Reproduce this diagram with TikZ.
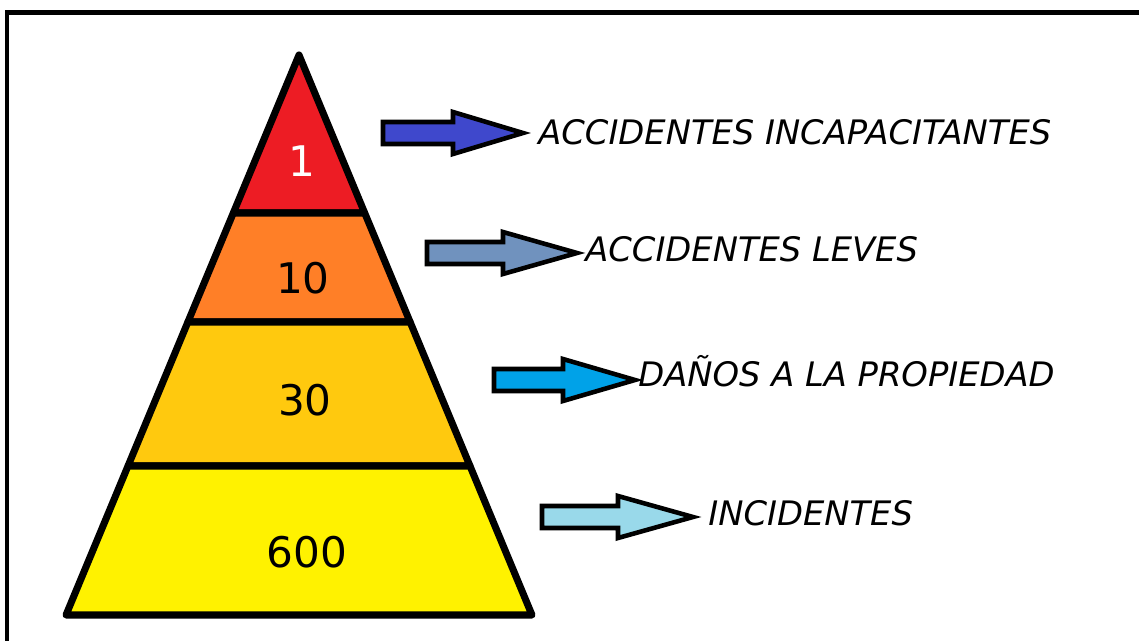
\documentclass[tikz,border=0pt]{standalone}
\usepackage{fontspec}
\setmainfont{DejaVu Sans}
\definecolor{rojo}{HTML}{ED1C24}
\definecolor{naranja}{HTML}{FF7F27}
\definecolor{oro}{HTML}{FFC90E}
\definecolor{amarillo}{HTML}{FFF200}
\definecolor{azul}{HTML}{3F48CC}
\definecolor{acero}{HTML}{7092BE}
\definecolor{celeste}{HTML}{00A2E8}
\definecolor{claro}{HTML}{99D9EA}
\def\capauno{(299,55) -- (364.7,213) -- (233.3,213) -- cycle}
\def\capados{(233.3,213) -- (364.7,213) -- (410.1,322) -- (187.9,322) -- cycle}
\def\capatres{(187.9,322) -- (410.1,322) -- (470,466) -- (128,466) -- cycle}
\def\capacuatro{(128,466) -- (470,466) -- (532,615) -- (66,615) -- cycle}
% flecha: inicio, base de la punta, punta, altura, color
\newcommand{\flecha}[5]{%
  \filldraw[borde, fill=#5] (#1,#4-11) -- (#2,#4-11) -- (#2,#4-21) -- (#3,#4)
    -- (#2,#4+21) -- (#2,#4+11) -- (#1,#4+11) -- cycle;}
\tikzset{
  borde/.style={line width=2.6pt, line join=miter},
  numero/.style={font=\fontsize{24}{27}\selectfont},
  texto/.style={anchor=base west, inner sep=0pt, font=\fontsize{19.2}{21}\selectfont\itshape}
}

\begin{document}
\begin{tikzpicture}[x=0.02cm, y=-0.02cm]
      \useasboundingbox (0,0) rectangle (1139,641);
      \draw[line width=2.4pt] (7,660) -- (7,12.5) -- (1160,12.5);
      \begin{scope}[line width=4pt, line join=round]
        \filldraw[fill=rojo] \capauno;
        \filldraw[fill=naranja] \capados;
        \filldraw[fill=oro] \capatres;
        \filldraw[fill=amarillo] \capacuatro;
      \end{scope}
      \node[numero, text=white] (n1) at (302,161) {1};
      \node[numero] (n10) at (303,278) {10};
      \node[numero] (n30) at (305,400) {30};
      \node[numero] (n600) at (307,552) {600};
      \flecha{383}{453}{523}{133}{azul}
      \flecha{427}{503}{577}{253}{acero}
      \flecha{494}{563}{635}{380}{celeste}
      \flecha{542}{618}{693}{517}{claro}
      \node[texto] (incap) at (538,145) {ACCIDENTES INCAPACITANTES};
      \node[texto] (leves) at (585,262) {ACCIDENTES LEVES};
      \node[texto] (danos) at (638,387) {DAÑOS A LA PROPIEDAD};
      \node[texto] (incid) at (708,525) {INCIDENTES};
\end{tikzpicture}
\end{document}
